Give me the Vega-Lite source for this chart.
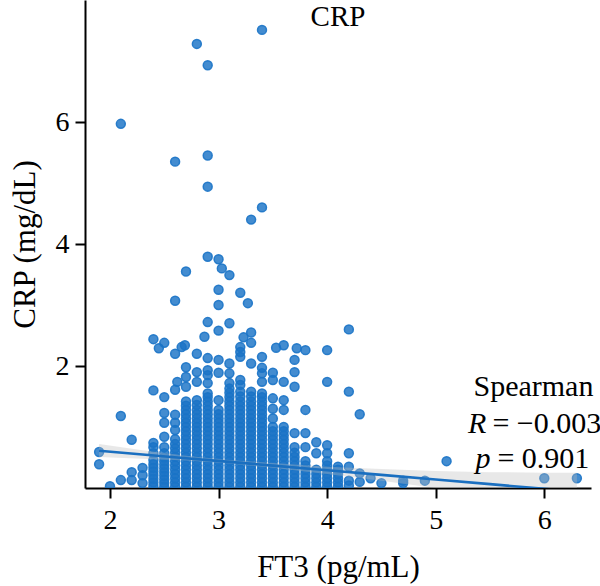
{
  "$schema": "https://vega.github.io/schema/vega-lite/v6.json",
  "width": 506,
  "height": 488,
  "autosize": {"type": "none"},
  "padding": {"left": 85, "top": 0, "right": 9, "bottom": 98},
  "background": "white",
  "config": {
    "view": {"stroke": null},
    "font": "Liberation Serif",
    "text": {"font": "Liberation Serif", "color": "black"},
    "axis": {
      "grid": false,
      "domainColor": "black",
      "domainWidth": 2,
      "tickColor": "black",
      "tickWidth": 2,
      "tickSize": 10,
      "labelFont": "Liberation Serif",
      "labelFontSize": 28,
      "labelColor": "black",
      "titleFont": "Liberation Serif",
      "titleFontSize": 31,
      "titleFontWeight": "normal",
      "titleColor": "black"
    }
  },
  "datasets": {
    "obs": [
      {"ft3": 1.9, "crp": 0.59}, {"ft3": 1.9, "crp": 0.39},
      {"ft3": 2.0, "crp": 0.03},
      {"ft3": 2.1, "crp": 0.13}, {"ft3": 2.1, "crp": 1.18}, {"ft3": 2.1, "crp": 5.97},
      {"ft3": 2.2, "crp": 0.13}, {"ft3": 2.2, "crp": 0.26}, {"ft3": 2.2, "crp": 0.79},
      {"ft3": 2.3, "crp": 0.08}, {"ft3": 2.3, "crp": 0.21}, {"ft3": 2.3, "crp": 0.33},
      {"ft3": 2.4, "crp": 0.03}, {"ft3": 2.4, "crp": 0.09}, {"ft3": 2.4, "crp": 0.15}, {"ft3": 2.4, "crp": 0.21},
      {"ft3": 2.4, "crp": 0.27}, {"ft3": 2.4, "crp": 0.33}, {"ft3": 2.4, "crp": 0.39}, {"ft3": 2.4, "crp": 0.46},
      {"ft3": 2.4, "crp": 0.57}, {"ft3": 2.4, "crp": 0.67}, {"ft3": 2.4, "crp": 0.74}, {"ft3": 2.4, "crp": 1.6},
      {"ft3": 2.4, "crp": 2.44},
      {"ft3": 2.45, "crp": 2.29},
      {"ft3": 2.5, "crp": 0.02}, {"ft3": 2.5, "crp": 0.08}, {"ft3": 2.5, "crp": 0.14}, {"ft3": 2.5, "crp": 0.2},
      {"ft3": 2.5, "crp": 0.26}, {"ft3": 2.5, "crp": 0.32}, {"ft3": 2.5, "crp": 0.38}, {"ft3": 2.5, "crp": 0.44},
      {"ft3": 2.5, "crp": 0.5}, {"ft3": 2.5, "crp": 0.57}, {"ft3": 2.5, "crp": 0.67}, {"ft3": 2.5, "crp": 0.84},
      {"ft3": 2.5, "crp": 1.07}, {"ft3": 2.5, "crp": 1.23}, {"ft3": 2.5, "crp": 1.49}, {"ft3": 2.5, "crp": 2.38},
      {"ft3": 2.6, "crp": 0.02}, {"ft3": 2.6, "crp": 0.09}, {"ft3": 2.6, "crp": 0.16}, {"ft3": 2.6, "crp": 0.23},
      {"ft3": 2.6, "crp": 0.3}, {"ft3": 2.6, "crp": 0.37}, {"ft3": 2.6, "crp": 0.44}, {"ft3": 2.6, "crp": 0.51},
      {"ft3": 2.6, "crp": 0.58}, {"ft3": 2.6, "crp": 0.65}, {"ft3": 2.6, "crp": 0.72}, {"ft3": 2.6, "crp": 0.8},
      {"ft3": 2.6, "crp": 0.95}, {"ft3": 2.6, "crp": 1.07}, {"ft3": 2.6, "crp": 1.2}, {"ft3": 2.6, "crp": 1.61},
      {"ft3": 2.6, "crp": 2.2}, {"ft3": 2.6, "crp": 3.07}, {"ft3": 2.6, "crp": 5.35},
      {"ft3": 2.62, "crp": 1.74}, {"ft3": 2.66, "crp": 2.31}, {"ft3": 2.69, "crp": 2.34},
      {"ft3": 2.7, "crp": 0.02}, {"ft3": 2.7, "crp": 0.09}, {"ft3": 2.7, "crp": 0.16}, {"ft3": 2.7, "crp": 0.23},
      {"ft3": 2.7, "crp": 0.3}, {"ft3": 2.7, "crp": 0.37}, {"ft3": 2.7, "crp": 0.44}, {"ft3": 2.7, "crp": 0.51},
      {"ft3": 2.7, "crp": 0.58}, {"ft3": 2.7, "crp": 0.65}, {"ft3": 2.7, "crp": 0.72}, {"ft3": 2.7, "crp": 0.79},
      {"ft3": 2.7, "crp": 0.86}, {"ft3": 2.7, "crp": 0.93}, {"ft3": 2.7, "crp": 1.0}, {"ft3": 2.7, "crp": 1.07},
      {"ft3": 2.7, "crp": 1.14}, {"ft3": 2.7, "crp": 1.21}, {"ft3": 2.7, "crp": 1.28}, {"ft3": 2.7, "crp": 1.35},
      {"ft3": 2.7, "crp": 1.42}, {"ft3": 2.7, "crp": 1.66}, {"ft3": 2.7, "crp": 1.82}, {"ft3": 2.7, "crp": 1.98},
      {"ft3": 2.7, "crp": 3.55},
      {"ft3": 2.8, "crp": 0.02}, {"ft3": 2.8, "crp": 0.09}, {"ft3": 2.8, "crp": 0.16}, {"ft3": 2.8, "crp": 0.23},
      {"ft3": 2.8, "crp": 0.3}, {"ft3": 2.8, "crp": 0.37}, {"ft3": 2.8, "crp": 0.44}, {"ft3": 2.8, "crp": 0.51},
      {"ft3": 2.8, "crp": 0.58}, {"ft3": 2.8, "crp": 0.65}, {"ft3": 2.8, "crp": 0.72}, {"ft3": 2.8, "crp": 0.79},
      {"ft3": 2.8, "crp": 0.86}, {"ft3": 2.8, "crp": 0.93}, {"ft3": 2.8, "crp": 1.0}, {"ft3": 2.8, "crp": 1.07},
      {"ft3": 2.8, "crp": 1.14}, {"ft3": 2.8, "crp": 1.21}, {"ft3": 2.8, "crp": 1.28}, {"ft3": 2.8, "crp": 1.36},
      {"ft3": 2.8, "crp": 1.44}, {"ft3": 2.8, "crp": 1.74}, {"ft3": 2.8, "crp": 1.9}, {"ft3": 2.8, "crp": 2.2},
      {"ft3": 2.8, "crp": 7.28},
      {"ft3": 2.87, "crp": 2.48},
      {"ft3": 2.9, "crp": 0.02}, {"ft3": 2.9, "crp": 0.09}, {"ft3": 2.9, "crp": 0.16}, {"ft3": 2.9, "crp": 0.23},
      {"ft3": 2.9, "crp": 0.3}, {"ft3": 2.9, "crp": 0.37}, {"ft3": 2.9, "crp": 0.44}, {"ft3": 2.9, "crp": 0.51},
      {"ft3": 2.9, "crp": 0.58}, {"ft3": 2.9, "crp": 0.65}, {"ft3": 2.9, "crp": 0.72}, {"ft3": 2.9, "crp": 0.79},
      {"ft3": 2.9, "crp": 0.86}, {"ft3": 2.9, "crp": 0.93}, {"ft3": 2.9, "crp": 1.0}, {"ft3": 2.9, "crp": 1.07},
      {"ft3": 2.9, "crp": 1.14}, {"ft3": 2.9, "crp": 1.21}, {"ft3": 2.9, "crp": 1.28}, {"ft3": 2.9, "crp": 1.35},
      {"ft3": 2.9, "crp": 1.42}, {"ft3": 2.9, "crp": 1.49}, {"ft3": 2.9, "crp": 1.55}, {"ft3": 2.9, "crp": 1.72},
      {"ft3": 2.9, "crp": 1.85}, {"ft3": 2.9, "crp": 1.93}, {"ft3": 2.9, "crp": 2.13}, {"ft3": 2.9, "crp": 2.72},
      {"ft3": 2.9, "crp": 3.79}, {"ft3": 2.9, "crp": 4.94}, {"ft3": 2.9, "crp": 5.45}, {"ft3": 2.9, "crp": 6.93},
      {"ft3": 3.0, "crp": 0.02}, {"ft3": 3.0, "crp": 0.09}, {"ft3": 3.0, "crp": 0.16}, {"ft3": 3.0, "crp": 0.23},
      {"ft3": 3.0, "crp": 0.3}, {"ft3": 3.0, "crp": 0.37}, {"ft3": 3.0, "crp": 0.44}, {"ft3": 3.0, "crp": 0.51},
      {"ft3": 3.0, "crp": 0.58}, {"ft3": 3.0, "crp": 0.65}, {"ft3": 3.0, "crp": 0.72}, {"ft3": 3.0, "crp": 0.79},
      {"ft3": 3.0, "crp": 0.86}, {"ft3": 3.0, "crp": 0.93}, {"ft3": 3.0, "crp": 1.0}, {"ft3": 3.0, "crp": 1.07},
      {"ft3": 3.0, "crp": 1.14}, {"ft3": 3.0, "crp": 1.21}, {"ft3": 3.0, "crp": 1.28}, {"ft3": 3.0, "crp": 1.44},
      {"ft3": 3.0, "crp": 1.89}, {"ft3": 3.0, "crp": 2.1}, {"ft3": 3.0, "crp": 2.58}, {"ft3": 3.0, "crp": 3.0},
      {"ft3": 3.0, "crp": 3.25}, {"ft3": 3.0, "crp": 3.75},
      {"ft3": 3.03, "crp": 3.6},
      {"ft3": 3.1, "crp": 0.02}, {"ft3": 3.1, "crp": 0.09}, {"ft3": 3.1, "crp": 0.16}, {"ft3": 3.1, "crp": 0.23},
      {"ft3": 3.1, "crp": 0.3}, {"ft3": 3.1, "crp": 0.37}, {"ft3": 3.1, "crp": 0.44}, {"ft3": 3.1, "crp": 0.51},
      {"ft3": 3.1, "crp": 0.58}, {"ft3": 3.1, "crp": 0.65}, {"ft3": 3.1, "crp": 0.72}, {"ft3": 3.1, "crp": 0.79},
      {"ft3": 3.1, "crp": 0.86}, {"ft3": 3.1, "crp": 0.93}, {"ft3": 3.1, "crp": 1.0}, {"ft3": 3.1, "crp": 1.07},
      {"ft3": 3.1, "crp": 1.14}, {"ft3": 3.1, "crp": 1.21}, {"ft3": 3.1, "crp": 1.28}, {"ft3": 3.1, "crp": 1.35},
      {"ft3": 3.1, "crp": 1.42}, {"ft3": 3.1, "crp": 1.49}, {"ft3": 3.1, "crp": 1.56}, {"ft3": 3.1, "crp": 1.63},
      {"ft3": 3.1, "crp": 1.72}, {"ft3": 3.1, "crp": 1.88}, {"ft3": 3.1, "crp": 2.04}, {"ft3": 3.1, "crp": 2.7},
      {"ft3": 3.1, "crp": 3.49},
      {"ft3": 3.2, "crp": 0.02}, {"ft3": 3.2, "crp": 0.09}, {"ft3": 3.2, "crp": 0.16}, {"ft3": 3.2, "crp": 0.23},
      {"ft3": 3.2, "crp": 0.3}, {"ft3": 3.2, "crp": 0.37}, {"ft3": 3.2, "crp": 0.44}, {"ft3": 3.2, "crp": 0.51},
      {"ft3": 3.2, "crp": 0.58}, {"ft3": 3.2, "crp": 0.65}, {"ft3": 3.2, "crp": 0.72}, {"ft3": 3.2, "crp": 0.79},
      {"ft3": 3.2, "crp": 0.86}, {"ft3": 3.2, "crp": 0.93}, {"ft3": 3.2, "crp": 1.0}, {"ft3": 3.2, "crp": 1.07},
      {"ft3": 3.2, "crp": 1.14}, {"ft3": 3.2, "crp": 1.21}, {"ft3": 3.2, "crp": 1.28}, {"ft3": 3.2, "crp": 1.35},
      {"ft3": 3.2, "crp": 1.42}, {"ft3": 3.2, "crp": 1.5}, {"ft3": 3.2, "crp": 1.58}, {"ft3": 3.2, "crp": 1.69},
      {"ft3": 3.2, "crp": 1.77}, {"ft3": 3.2, "crp": 2.15}, {"ft3": 3.2, "crp": 2.23}, {"ft3": 3.2, "crp": 2.31},
      {"ft3": 3.2, "crp": 3.2},
      {"ft3": 3.23, "crp": 2.47}, {"ft3": 3.27, "crp": 3.03},
      {"ft3": 3.3, "crp": 0.02}, {"ft3": 3.3, "crp": 0.09}, {"ft3": 3.3, "crp": 0.16}, {"ft3": 3.3, "crp": 0.23},
      {"ft3": 3.3, "crp": 0.3}, {"ft3": 3.3, "crp": 0.37}, {"ft3": 3.3, "crp": 0.44}, {"ft3": 3.3, "crp": 0.51},
      {"ft3": 3.3, "crp": 0.58}, {"ft3": 3.3, "crp": 0.65}, {"ft3": 3.3, "crp": 0.72}, {"ft3": 3.3, "crp": 0.79},
      {"ft3": 3.3, "crp": 0.86}, {"ft3": 3.3, "crp": 0.93}, {"ft3": 3.3, "crp": 1.0}, {"ft3": 3.3, "crp": 1.07},
      {"ft3": 3.3, "crp": 1.14}, {"ft3": 3.3, "crp": 1.21}, {"ft3": 3.3, "crp": 1.28}, {"ft3": 3.3, "crp": 1.35},
      {"ft3": 3.3, "crp": 1.42}, {"ft3": 3.3, "crp": 1.5}, {"ft3": 3.3, "crp": 1.58}, {"ft3": 3.3, "crp": 2.04},
      {"ft3": 3.3, "crp": 2.38}, {"ft3": 3.3, "crp": 2.55}, {"ft3": 3.3, "crp": 4.4},
      {"ft3": 3.4, "crp": 0.02}, {"ft3": 3.4, "crp": 0.09}, {"ft3": 3.4, "crp": 0.16}, {"ft3": 3.4, "crp": 0.23},
      {"ft3": 3.4, "crp": 0.3}, {"ft3": 3.4, "crp": 0.37}, {"ft3": 3.4, "crp": 0.44}, {"ft3": 3.4, "crp": 0.51},
      {"ft3": 3.4, "crp": 0.58}, {"ft3": 3.4, "crp": 0.65}, {"ft3": 3.4, "crp": 0.72}, {"ft3": 3.4, "crp": 0.79},
      {"ft3": 3.4, "crp": 0.86}, {"ft3": 3.4, "crp": 0.93}, {"ft3": 3.4, "crp": 1.0}, {"ft3": 3.4, "crp": 1.07},
      {"ft3": 3.4, "crp": 1.14}, {"ft3": 3.4, "crp": 1.21}, {"ft3": 3.4, "crp": 1.28}, {"ft3": 3.4, "crp": 1.35},
      {"ft3": 3.4, "crp": 1.42}, {"ft3": 3.4, "crp": 1.49}, {"ft3": 3.4, "crp": 1.55}, {"ft3": 3.4, "crp": 1.74},
      {"ft3": 3.4, "crp": 1.88}, {"ft3": 3.4, "crp": 1.97}, {"ft3": 3.4, "crp": 2.15}, {"ft3": 3.4, "crp": 4.6},
      {"ft3": 3.4, "crp": 7.51},
      {"ft3": 3.5, "crp": 0.02}, {"ft3": 3.5, "crp": 0.09}, {"ft3": 3.5, "crp": 0.16}, {"ft3": 3.5, "crp": 0.23},
      {"ft3": 3.5, "crp": 0.3}, {"ft3": 3.5, "crp": 0.37}, {"ft3": 3.5, "crp": 0.44}, {"ft3": 3.5, "crp": 0.51},
      {"ft3": 3.5, "crp": 0.58}, {"ft3": 3.5, "crp": 0.65}, {"ft3": 3.5, "crp": 0.72}, {"ft3": 3.5, "crp": 0.79},
      {"ft3": 3.5, "crp": 0.86}, {"ft3": 3.5, "crp": 0.93}, {"ft3": 3.5, "crp": 1.0}, {"ft3": 3.5, "crp": 1.14},
      {"ft3": 3.5, "crp": 1.3}, {"ft3": 3.5, "crp": 1.47}, {"ft3": 3.5, "crp": 1.77}, {"ft3": 3.5, "crp": 1.89},
      {"ft3": 3.53, "crp": 2.3},
      {"ft3": 3.6, "crp": 0.02}, {"ft3": 3.6, "crp": 0.09}, {"ft3": 3.6, "crp": 0.16}, {"ft3": 3.6, "crp": 0.23},
      {"ft3": 3.6, "crp": 0.3}, {"ft3": 3.6, "crp": 0.37}, {"ft3": 3.6, "crp": 0.44}, {"ft3": 3.6, "crp": 0.51},
      {"ft3": 3.6, "crp": 0.58}, {"ft3": 3.6, "crp": 0.65}, {"ft3": 3.6, "crp": 0.72}, {"ft3": 3.6, "crp": 0.79},
      {"ft3": 3.6, "crp": 0.86}, {"ft3": 3.6, "crp": 0.93}, {"ft3": 3.6, "crp": 1.0}, {"ft3": 3.6, "crp": 1.28},
      {"ft3": 3.6, "crp": 1.44}, {"ft3": 3.6, "crp": 1.74}, {"ft3": 3.6, "crp": 2.34},
      {"ft3": 3.7, "crp": 0.02}, {"ft3": 3.7, "crp": 0.09}, {"ft3": 3.7, "crp": 0.16}, {"ft3": 3.7, "crp": 0.23},
      {"ft3": 3.7, "crp": 0.3}, {"ft3": 3.7, "crp": 0.37}, {"ft3": 3.7, "crp": 0.44}, {"ft3": 3.7, "crp": 0.51},
      {"ft3": 3.7, "crp": 0.58}, {"ft3": 3.7, "crp": 0.67}, {"ft3": 3.7, "crp": 0.9}, {"ft3": 3.7, "crp": 1.66},
      {"ft3": 3.7, "crp": 1.9}, {"ft3": 3.7, "crp": 2.1}, {"ft3": 3.72, "crp": 2.29},
      {"ft3": 3.8, "crp": 0.02}, {"ft3": 3.8, "crp": 0.09}, {"ft3": 3.8, "crp": 0.16}, {"ft3": 3.8, "crp": 0.23},
      {"ft3": 3.8, "crp": 0.3}, {"ft3": 3.8, "crp": 0.37}, {"ft3": 3.8, "crp": 0.44}, {"ft3": 3.8, "crp": 0.67},
      {"ft3": 3.8, "crp": 0.9}, {"ft3": 3.8, "crp": 1.28}, {"ft3": 3.8, "crp": 2.26},
      {"ft3": 3.9, "crp": 0.02}, {"ft3": 3.9, "crp": 0.09}, {"ft3": 3.9, "crp": 0.16}, {"ft3": 3.9, "crp": 0.23},
      {"ft3": 3.9, "crp": 0.3}, {"ft3": 3.9, "crp": 0.57}, {"ft3": 3.9, "crp": 0.75},
      {"ft3": 4.0, "crp": 0.02}, {"ft3": 4.0, "crp": 0.09}, {"ft3": 4.0, "crp": 0.16}, {"ft3": 4.0, "crp": 0.23},
      {"ft3": 4.0, "crp": 0.3}, {"ft3": 4.0, "crp": 0.37}, {"ft3": 4.0, "crp": 0.44}, {"ft3": 4.0, "crp": 0.57},
      {"ft3": 4.0, "crp": 0.7}, {"ft3": 4.0, "crp": 1.74}, {"ft3": 4.0, "crp": 2.26},
      {"ft3": 4.1, "crp": 0.02}, {"ft3": 4.1, "crp": 0.09}, {"ft3": 4.1, "crp": 0.16}, {"ft3": 4.1, "crp": 0.23},
      {"ft3": 4.1, "crp": 0.3}, {"ft3": 4.1, "crp": 0.35},
      {"ft3": 4.2, "crp": 0.04}, {"ft3": 4.2, "crp": 0.12}, {"ft3": 4.2, "crp": 0.35}, {"ft3": 4.2, "crp": 0.57},
      {"ft3": 4.2, "crp": 1.58}, {"ft3": 4.2, "crp": 2.6},
      {"ft3": 4.3, "crp": 0.1}, {"ft3": 4.3, "crp": 0.24}, {"ft3": 4.3, "crp": 1.21},
      {"ft3": 4.4, "crp": 0.16}, {"ft3": 4.5, "crp": 0.08},
      {"ft3": 4.7, "crp": 0.08}, {"ft3": 4.7, "crp": 0.12},
      {"ft3": 4.9, "crp": 0.12}, {"ft3": 5.1, "crp": 0.44},
      {"ft3": 6.0, "crp": 0.16}, {"ft3": 6.3, "crp": 0.16}
    ],
    "fit": [
      {"ft3": 1.9, "fit": 0.61, "lo": 0.51, "hi": 0.72},
      {"ft3": 2.3, "fit": 0.549, "lo": 0.48, "hi": 0.62},
      {"ft3": 2.7, "fit": 0.488, "lo": 0.45, "hi": 0.53},
      {"ft3": 3.1, "fit": 0.428, "lo": 0.4, "hi": 0.46},
      {"ft3": 3.5, "fit": 0.367, "lo": 0.33, "hi": 0.41},
      {"ft3": 4.0, "fit": 0.291, "lo": 0.23, "hi": 0.35},
      {"ft3": 4.5, "fit": 0.215, "lo": 0.12, "hi": 0.31},
      {"ft3": 5.0, "fit": 0.139, "lo": 0.0, "hi": 0.28},
      {"ft3": 5.5, "fit": 0.063, "lo": -0.13, "hi": 0.26},
      {"ft3": 6.0, "fit": -0.013, "lo": -0.27, "hi": 0.25},
      {"ft3": 6.3, "fit": -0.059, "lo": -0.37, "hi": 0.25}
    ],
    "stat": [{"panel": "CRP", "method": "Spearman", "r": "= −0.003", "p": "= 0.901"}]
  },
  "layer": [
    {
      "data": {"name": "obs"},
      "mark": {
        "type": "circle",
        "size": 80,
        "color": "#1a73c6",
        "fillOpacity": 0.82,
        "stroke": "#1a73c6",
        "strokeOpacity": 0.9,
        "strokeWidth": 1.5,
        "clip": true
      },
      "encoding": {
        "x": {
          "field": "ft3",
          "type": "quantitative",
          "title": "FT3 (pg/mL)",
          "scale": {"domain": [1.77, 6.43], "nice": false, "zero": false},
          "axis": {"values": [2, 3, 4, 5, 6], "format": "d", "labelPadding": 8, "titlePadding": 18}
        },
        "y": {
          "field": "crp",
          "type": "quantitative",
          "title": "CRP (mg/dL)",
          "scale": {"domain": [0, 8], "nice": false},
          "axis": {"values": [2, 4, 6], "format": "d", "labelPadding": 6, "titlePadding": 14}
        }
      }
    },
    {
      "data": {"name": "fit"},
      "mark": {"type": "area", "color": "#bdbdbd", "opacity": 0.35, "clip": true},
      "encoding": {
        "x": {"field": "ft3", "type": "quantitative"},
        "y": {"field": "lo", "type": "quantitative"},
        "y2": {"field": "hi"}
      }
    },
    {
      "data": {"name": "fit"},
      "mark": {"type": "line", "color": "#1a6fc0", "strokeWidth": 2.6, "clip": true},
      "encoding": {
        "x": {"field": "ft3", "type": "quantitative"},
        "y": {"field": "fit", "type": "quantitative"}
      }
    },
    {
      "data": {"name": "stat"},
      "mark": {"type": "text", "fontSize": 29, "align": "center", "baseline": "alphabetic", "dy": 26},
      "encoding": {"x": {"datum": 4.1}, "y": {"datum": 8}, "text": {"field": "panel"}}
    },
    {
      "data": {"name": "stat"},
      "mark": {"type": "text", "fontSize": 30, "align": "center", "baseline": "alphabetic"},
      "encoding": {"x": {"datum": 5.9}, "y": {"datum": 1.51}, "text": {"field": "method"}}
    },
    {
      "data": {"name": "stat"},
      "mark": {"type": "text", "text": "R", "fontSize": 30, "fontStyle": "italic", "align": "right", "baseline": "alphabetic", "dx": -47},
      "encoding": {"x": {"datum": 5.9}, "y": {"datum": 0.9}}
    },
    {
      "data": {"name": "stat"},
      "mark": {"type": "text", "fontSize": 30, "align": "left", "baseline": "alphabetic", "dx": -41},
      "encoding": {"x": {"datum": 5.9}, "y": {"datum": 0.9}, "text": {"field": "r"}}
    },
    {
      "data": {"name": "stat"},
      "mark": {"type": "text", "text": "p", "fontSize": 30, "fontStyle": "italic", "align": "right", "baseline": "alphabetic", "dx": -43},
      "encoding": {"x": {"datum": 5.9}, "y": {"datum": 0.32}}
    },
    {
      "data": {"name": "stat"},
      "mark": {"type": "text", "fontSize": 30, "align": "left", "baseline": "alphabetic", "dx": -36},
      "encoding": {"x": {"datum": 5.9}, "y": {"datum": 0.32}, "text": {"field": "p"}}
    }
  ]
}
